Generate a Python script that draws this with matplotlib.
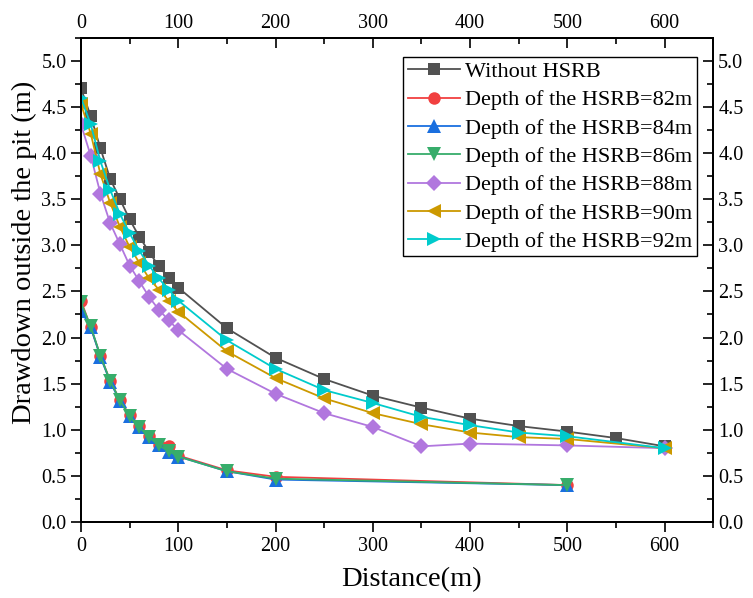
import matplotlib
matplotlib.use("Agg")
import matplotlib.pyplot as plt
from matplotlib.ticker import MultipleLocator, FormatStrFormatter

plt.rcParams['font.family'] = ['Liberation Serif', 'DejaVu Serif']

# Data
x_without = [0, 10, 20, 30, 40, 50, 60, 70, 80, 90, 100, 150, 200, 250, 300, 350, 400, 450, 500, 550, 600]
y_without = [4.70, 4.40, 4.05, 3.72, 3.50, 3.28, 3.09, 2.93, 2.77, 2.65, 2.54, 2.10, 1.78, 1.55, 1.37, 1.24, 1.12, 1.04, 0.98, 0.91, 0.82]

x_low = [0, 10, 20, 30, 40, 50, 60, 70, 80, 90, 100, 150, 200, 500]
y_82 = [2.40, 2.11, 1.80, 1.53, 1.32, 1.16, 1.04, 0.93, 0.84, 0.82, 0.72, 0.56, 0.49, 0.40]
y_84 = [2.29, 2.11, 1.79, 1.52, 1.31, 1.15, 1.03, 0.92, 0.83, 0.76, 0.71, 0.55, 0.46, 0.40]
y_86 = [2.38, 2.12, 1.80, 1.53, 1.32, 1.15, 1.03, 0.92, 0.83, 0.77, 0.71, 0.55, 0.47, 0.40]

x_88 = [0, 10, 20, 30, 40, 50, 60, 70, 80, 90, 100, 150, 200, 250, 300, 350, 400, 500, 600]
y_88 = [4.31, 3.97, 3.56, 3.24, 3.01, 2.78, 2.61, 2.44, 2.30, 2.19, 2.08, 1.66, 1.39, 1.18, 1.03, 0.82, 0.85, 0.83, 0.80]

x_hi = [0, 10, 20, 30, 40, 50, 60, 70, 80, 90, 100, 150, 200, 250, 300, 350, 400, 450, 500, 600]
y_90 = [4.53, 4.21, 3.77, 3.46, 3.20, 2.98, 2.81, 2.64, 2.52, 2.40, 2.28, 1.85, 1.56, 1.34, 1.18, 1.06, 0.97, 0.92, 0.90, 0.80]
y_92 = [4.60, 4.31, 3.91, 3.60, 3.34, 3.13, 2.94, 2.78, 2.64, 2.52, 2.40, 1.97, 1.66, 1.43, 1.29, 1.14, 1.05, 0.97, 0.93, 0.80]

labels = ["Without HSRB", "Depth of the HSRB=82m", "Depth of the HSRB=84m",
          "Depth of the HSRB=86m", "Depth of the HSRB=88m", "Depth of the HSRB=90m",
          "Depth of the HSRB=92m"]
colors = ['#515151', '#F14040', '#1A6FDF', '#37AD6B', '#B177DE', '#CC9900', '#00CBCC']
markers = ['s', 'o', '^', 'v', 'D', '<', '>']
msizes = [8.5, 9, 9.5, 9.5, 8, 10, 10]

series = [(x_without, y_without), (x_low, y_82), (x_low, y_84), (x_low, y_86),
          (x_88, y_88), (x_hi, y_90), (x_hi, y_92)]

fig = plt.figure(figsize=(7.53, 5.98), dpi=100)
ax = fig.add_axes([81/753, 1-522/598, (713.3-81)/753, (522-37.7)/598])

for (xs, ys), lab, c, m, ms in zip(series, labels, colors, markers, msizes):
    ax.plot(xs, ys, color=c, marker=m, markersize=ms, linewidth=1.3, label=lab,
            markeredgewidth=0)

XLIM = (0, 650)
YLIM = (0, 5.25)
ax.set_xlim(*XLIM)
ax.set_ylim(*YLIM)

def style_x(a):
    a.xaxis.set_major_locator(MultipleLocator(100))
    a.xaxis.set_minor_locator(MultipleLocator(50))

def style_y(a):
    a.yaxis.set_major_locator(MultipleLocator(0.5))
    a.yaxis.set_minor_locator(MultipleLocator(0.25))
    a.yaxis.set_major_formatter(FormatStrFormatter('%.1f'))

style_x(ax)
style_y(ax)
ax.tick_params(which='both', direction='out', labelsize=14.5, width=1.2,
               top=False, right=False)
ax.tick_params(which='major', length=7)
ax.tick_params(which='minor', length=4)

ax.set_xlabel('Distance(m)', fontsize=20.5)
ax.set_ylabel('Drawdown outside the pit (m)', fontsize=20.5)
ax.xaxis.set_label_coords(0.522, -0.093)
ax.yaxis.set_label_coords(-0.069, 0.557)

for s in ax.spines.values():
    s.set_linewidth(1.2)

# top axis (ticks inward, labels above)
axt = ax.twiny()
axt.set_xlim(*XLIM)
style_x(axt)
axt.tick_params(axis='x', which='both', direction='in', labelsize=14.5, width=1.2)
axt.tick_params(axis='x', which='major', length=7)
axt.tick_params(axis='x', which='minor', length=4)
axt.tick_params(axis='y', left=False, right=False, labelleft=False, labelright=False)

# right axis (ticks inward, labels right)
axr = ax.twinx()
axr.set_ylim(*YLIM)
style_y(axr)
axr.tick_params(axis='y', which='both', direction='in', labelsize=14.5, width=1.2)
axr.tick_params(axis='y', which='major', length=7)
axr.tick_params(axis='y', which='minor', length=4)
axr.tick_params(axis='x', top=False, bottom=False, labeltop=False, labelbottom=False)
for a in (axt, axr):
    for s in a.spines.values():
        s.set_linewidth(1.2)

handles, labs = ax.get_legend_handles_labels()
leg = axr.legend(handles, labs, loc='upper right',
                 bbox_to_anchor=((697-81)/(713.3-81), (522-57)/(522-37.7)),
                 fontsize=16, frameon=True, fancybox=False, edgecolor='black',
                 handlelength=2.35, labelspacing=0.35, borderaxespad=0, borderpad=0.2,
                 handletextpad=0.25, framealpha=1)
leg.get_frame().set_linewidth(1.0)

fig.savefig('out.png', dpi=100)
